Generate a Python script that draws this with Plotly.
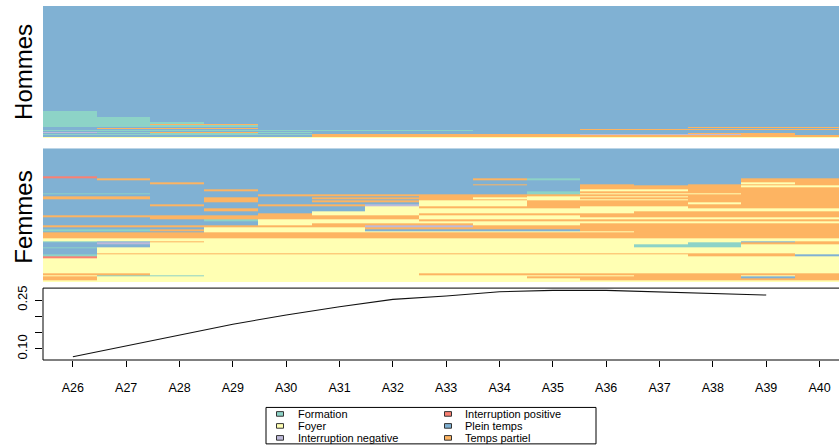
import plotly.graph_objects as go

# ---------------- data ----------------
ages = ["A26", "A27", "A28", "A29", "A30", "A31", "A32", "A33",
        "A34", "A35", "A36", "A37", "A38", "A39", "A40"]

state_codes = ["F", "Y", "N", "I", "P", "T"]
state_labels = ["Formation", "Foyer", "Interruption negative",
                "Interruption positive", "Plein temps", "Temps partiel"]
state_colors = ["#8DD3C7", "#FFFFB3", "#BEBADA", "#FB8072", "#80B1D3", "#FDB462"]

# sequences listed from top of panel to bottom; counts = number of sequences
hommes_seq = [
    "PPPPPPPPPPPPPPP", "FPPPPPPPPPPPPPP", "FFPPPPPPPPPPPPP", "FFFPPPPPPPPPPPP",
    "FFTTPPPPPPPPPPP", "FFFFPPPPPPPPPPP", "PPPPPPPPPPPPTTT", "PTTTPPPPPPPPPPP",
    "PPPPPPPPPPTTTTT", "FFFFFFFFPPPPPPP", "PPPPPPPPPPPPPPP", "NFTTFPPPPPPPPPP",
    "PPFFPPPPPPPPTTP", "FFFFFTTTTTNNNTP", "PPPPPTTTTTTTTTT", "YYYYYYYYYYYYYYY",
]
hommes_n = [209, 12, 10, 5, 2, 3, 2, 2, 2, 2, 2, 2, 2, 3, 3, 3]

femmes_seq = [
    "PPPPPPPPPPPPPPP", "IPPPPPPPPPPPPPP", "PTPPPPPPTFPPPTT", "PPPPPPPPPPPPPTT",
    "PPTPPPPPPPPPPYT", "PPPPPPPPTPTPTTT", "PPPPPPPPPPTTTYY", "PPPPPPPPPPTTTTT",
    "PPPTPPPPPPYYTTT", "PPPPPPPPPFTTTTT", "FFPPPPPPPFYYYTT", "PPPPTTTTTTTTTTT",
    "TTPPPPPTTYYYTTT", "TTPTPTTTYYTTTTT", "PPPTPPPTTYYYTTT", "PPPTPTTYYTTTTTT",
    "PPPPPPPYYTTTYTT", "PPTPTTNYYTTTTTT", "PPPPPPYTTTYYTTT", "PPPTPPYYYYYYYYY",
    "PPPPPYYYYYYTTTT", "PPPPTYYTTTTTTTT", "TTTTTTTYYYTTTTT", "PPTTTTTYYYYYYYY",
    "PPPFYYYTTTTTTTT", "PPPPYYYYYYYYYYY", "PPPPYTTTYYTTTTT", "TTTTTTNNTTTTTTT",
    "PPPYYYTTTTTTTTT", "FFTYYYPPPPTTTTT", "PPPYYYYYYYYTTTT", "TTTTTTTTTTTTTTT",
    "YYYYYYYYYYYYYYY", "FPTYYYYYYYYYYPT", "PNYYYYYYYYYYFTT", "PPYYYYYYYYYFFYY",
    "FYYYYYYYYYYYYYY", "PYYYYYYYYYYYYYY", "PTTTTTTTTTTTTTY", "FYYYYYYYYYYYTTP",
    "IYYYYYYYYYYYYYY", "YYYYYYYYYYYYYYY", "TTYYYYYTTTTTTTT", "YFFYYYYYYYYTTYT",
    "TYYYYYYYYTTTTPT", "TYYYYYYYYYTTTTT", "YYYYYYYYYYYYYYY",
]
femmes_n = [57, 4, 4, 3, 4, 3, 3, 4, 4, 4, 3, 3, 3, 3, 3, 3,
            4, 4, 5, 5, 4, 5, 3, 4, 4, 5, 4, 4, 3, 4, 3, 12,
            5, 3, 4, 5, 3, 9, 3, 4, 4, 30, 3, 3, 4, 4, 3]

# bottom panel line, A26..A39
line_values = [0.0755, 0.1092, 0.1429, 0.1756, 0.2041, 0.2295, 0.2521,
               0.2622, 0.2754, 0.2797, 0.2797, 0.2745, 0.2705, 0.2653]

ytick_vals = [0.10, 0.15, 0.20, 0.25]
ytick_text = ["0.10", "", "", "0.25"]

for s in hommes_seq + femmes_seq:
    assert len(s) == len(ages), s
assert len(hommes_seq) == len(hommes_n)
assert len(femmes_seq) == len(femmes_n)

# ---------------- layout geometry (pixels) ----------------
W, H = 839, 446
L, T, B = 43, 5.5, 86
PW = W - L
PH = H - T - B
COLW = 53.73      # width of one time column in the sequence plots
STEP = 53.333     # spacing between ticks in the line plot


def py(y):      # pixel y -> paper y
    return (H - B - y) / PH


def px(x):      # pixel x -> paper x
    return (x - L) / PW


FONT = "Liberation Sans, Arial, sans-serif"

n_states = len(state_codes)
colorscale = []
for i, c in enumerate(state_colors):
    colorscale.append([i / n_states, c])
    colorscale.append([(i + 1) / n_states, c])


def seq_heatmap(seqs, counts, xa, ya):
    rows = list(reversed(seqs))
    cnt = list(reversed(counts))
    z = [[state_codes.index(ch) for ch in s] for s in rows]
    yedges = [0]
    for c in cnt:
        yedges.append(yedges[-1] + c)
    xedges = list(range(len(ages) + 1))
    return go.Heatmap(z=z, x=xedges, y=yedges, colorscale=colorscale,
                      zmin=-0.5, zmax=n_states - 0.5, showscale=False,
                      xaxis=xa, yaxis=ya, hoverinfo="skip"), yedges[-1]


fig = go.Figure()
hm1, tot1 = seq_heatmap(hommes_seq, hommes_n, "x", "y")
hm2, tot2 = seq_heatmap(femmes_seq, femmes_n, "x2", "y2")
fig.add_trace(hm1)
fig.add_trace(hm2)

xpos = list(range(1, len(line_values) + 1))
fig.add_trace(go.Scatter(x=xpos, y=line_values, mode="lines",
                         line=dict(color="#111111", width=1.1),
                         xaxis="x3", yaxis="y3", hoverinfo="skip"))

seq_xrange = [0, PW / COLW]
x3_lo = 0.44
x3_range = [x3_lo, x3_lo + PW / STEP]

hidden = dict(visible=False, showgrid=False, zeroline=False, fixedrange=True)

fig.update_layout(
    template="none",
    width=W, height=H, autosize=False,
    margin=dict(l=L, r=0, t=T, b=B, pad=0),
    paper_bgcolor="white", plot_bgcolor="white",
    font=dict(family=FONT, color="black"),
    showlegend=False,
    xaxis=dict(domain=[0, 1], range=seq_xrange, anchor="y", **hidden),
    yaxis=dict(domain=[py(138), 1], range=[0, tot1], anchor="x", **hidden),
    xaxis2=dict(domain=[0, 1], range=seq_xrange, anchor="y2", **hidden),
    yaxis2=dict(domain=[py(282), py(148)], range=[0, tot2], anchor="x2", **hidden),
    xaxis3=dict(domain=[0, 1], range=x3_range, anchor="y3",
                tickmode="array", tickvals=list(range(1, len(ages) + 1)), ticktext=ages,
                ticks="outside", ticklen=6, tickcolor="black", tickwidth=1,
                showline=False, showgrid=False, zeroline=False,
                tickfont=dict(size=12.5, family=FONT, color="black"),
                ticklabelstandoff=10, automargin=False),
    yaxis3=dict(domain=[0, py(288)], range=[0.0655, 0.2867], anchor="x3",
                tickmode="array", tickvals=ytick_vals, ticktext=ytick_text,
                tickangle=-90, ticks="outside", ticklen=7, tickcolor="black",
                tickwidth=1, showline=False, showgrid=False, zeroline=False,
                tickfont=dict(size=13, family=FONT, color="black"),
                ticklabelstandoff=3, automargin=False),
)

shapes = []
annotations = []
# box around the line plot (right side runs off the page)
shapes.append(dict(type="rect", xref="paper", yref="paper",
                   x0=0, x1=1.05, y0=0, y1=py(288),
                   line=dict(color="black", width=1), fillcolor="rgba(0,0,0,0)"))

# group labels
annotations.append(dict(text="Hommes", xref="paper", yref="paper",
                        x=px(23.5), y=py(72), xanchor="center", yanchor="middle",
                        textangle=-90, showarrow=False,
                        font=dict(size=24, family=FONT, color="black")))
annotations.append(dict(text="Femmes", xref="paper", yref="paper",
                        x=px(23.5), y=py(217), xanchor="center", yanchor="middle",
                        textangle=-90, showarrow=False,
                        font=dict(size=24, family=FONT, color="black")))

# legend (two columns, three rows, drawn from the state arrays)
shapes.append(dict(type="rect", xref="paper", yref="paper",
                   x0=px(266), x1=px(596), y0=py(444), y1=py(407.5),
                   line=dict(color="black", width=1), fillcolor="white"))
sym_x = [276.5, 444.5]
txt_x = [298, 465]
row_y = [414.0, 426.0, 438.0]
for i, (lab, col) in enumerate(zip(state_labels, state_colors)):
    c = i // 3
    r = i % 3
    shapes.append(dict(type="rect", xref="paper", yref="paper",
                       x0=px(sym_x[c]), x1=px(sym_x[c] + 7),
                       y0=py(row_y[r] + 2.3), y1=py(row_y[r] - 2.3),
                       line=dict(color="#333333", width=1), fillcolor=col))
    annotations.append(dict(text=lab, xref="paper", yref="paper",
                            x=px(txt_x[c]), y=py(row_y[r] + 0.3),
                            xanchor="left", yanchor="middle", showarrow=False,
                            borderpad=0, borderwidth=0,
                            font=dict(size=11, family=FONT, color="black")))

fig.update_layout(shapes=shapes, annotations=annotations)

fig.write_html("out.html", config={"displayModeBar": False},
               post_script="document.body.style.margin='0';document.body.style.overflow='hidden';")
